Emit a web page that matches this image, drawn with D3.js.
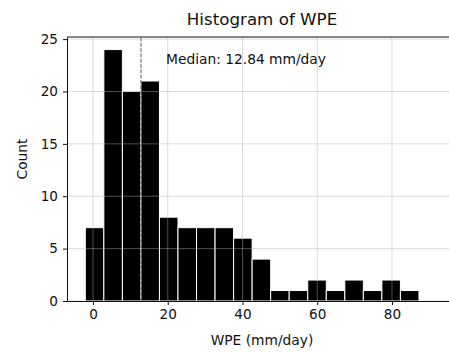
<!DOCTYPE html>
<html>
<head>
<meta charset="utf-8">
<script src="https://cdn.jsdelivr.net/npm/d3@7"></script>
<style>
  body { margin: 0; background: #fff; }
  svg { display: block; font-family: "DejaVu Sans", sans-serif; }
</style>
</head>
<body>
<div id="chart"></div>
<script>
// histogram bins
const binEdges = [-2.06, 2.90, 7.86, 12.82, 17.78, 22.74, 27.70, 32.66, 37.62, 42.58,
                  47.54, 52.50, 57.46, 62.42, 67.38, 72.34, 77.30, 82.26, 87.22];
const counts = [7, 24, 20, 21, 8, 7, 7, 7, 6, 4, 1, 1, 2, 1, 2, 1, 2, 1];
const xTicks = [0, 20, 40, 60, 80];
const yTicks = [0, 5, 10, 15, 20, 25];
const median = 12.84;
const xDomain = [-6.96, 97.4];
const yDomain = [0, 25.2];

const width = 449, height = 352;
const margin = { top: 37, right: -8, bottom: 51, left: 67 };

const svg = d3.select("#chart").append("svg")
    .attr("width", width)
    .attr("height", height);

const x = d3.scaleLinear()
    .domain(xDomain)
    .range([margin.left, width - margin.right]);
const y = d3.scaleLinear()
    .domain(yDomain)
    .range([height - margin.bottom, margin.top]);

const bins = counts.map((c, i) => ({ x0: binEdges[i], x1: binEdges[i + 1], count: c }));

// bars
svg.append("g")
    .selectAll("rect")
    .data(bins)
    .enter()
    .append("rect")
    .attr("x", d => x(d.x0))
    .attr("y", d => y(d.count))
    .attr("width", d => x(d.x1) - x(d.x0))
    .attr("height", d => y(0) - y(d.count))
    .attr("fill", "#000")
    .attr("stroke", "#fff")
    .attr("stroke-width", 1);

// grid (drawn over the bars)
const grid = svg.append("g")
    .attr("stroke", "#b0b0b0")
    .attr("stroke-opacity", 0.5)
    .attr("stroke-width", 0.9);
grid.selectAll(".gx")
    .data(xTicks)
    .enter()
    .append("line")
    .attr("x1", d => x(d)).attr("x2", d => x(d))
    .attr("y1", y.range()[0]).attr("y2", y.range()[1]);
grid.selectAll(".gy")
    .data(yTicks)
    .enter()
    .append("line")
    .attr("x1", x.range()[0]).attr("x2", x.range()[1])
    .attr("y1", d => y(d)).attr("y2", d => y(d));

// median line
svg.append("line")
    .attr("x1", x(median)).attr("x2", x(median))
    .attr("y1", y.range()[0]).attr("y2", y.range()[1])
    .attr("stroke", "#555")
    .attr("stroke-width", 1)
    .attr("stroke-dasharray", "3.7,1.6");

svg.append("text")
    .attr("x", x(median) + 25)
    .attr("y", 64)
    .attr("font-size", 13.8)
    .attr("fill", "#111")
    .text("Median: " + median.toFixed(2) + " mm/day");

// axes
const xAxis = svg.append("g")
    .attr("transform", `translate(0,${height - margin.bottom})`)
    .call(d3.axisBottom(x).tickValues(xTicks).tickSize(4).tickPadding(4).tickSizeOuter(0));
const yAxis = svg.append("g")
    .attr("transform", `translate(${margin.left},0)`)
    .call(d3.axisLeft(y).tickValues(yTicks).tickSize(4).tickPadding(5).tickSizeOuter(0));

[xAxis, yAxis].forEach(g => {
    g.selectAll("text")
        .attr("font-family", "DejaVu Sans")
        .attr("font-size", 13.6)
        .attr("fill", "#111");
    g.selectAll("line").attr("stroke", "#111");
    g.select(".domain").attr("stroke", "#111").attr("stroke-width", 1);
});

// top spine
svg.append("line")
    .attr("x1", x.range()[0]).attr("x2", x.range()[1])
    .attr("y1", y.range()[1]).attr("y2", y.range()[1])
    .attr("stroke", "#111");

// labels
svg.append("text")
    .attr("x", (x.range()[0] + x.range()[1]) / 2)
    .attr("y", 25)
    .attr("text-anchor", "middle")
    .attr("font-size", 16.7)
    .attr("fill", "#111")
    .text("Histogram of WPE");

svg.append("text")
    .attr("x", (x.range()[0] + x.range()[1]) / 2)
    .attr("y", 345)
    .attr("text-anchor", "middle")
    .attr("font-size", 13.8)
    .attr("fill", "#111")
    .text("WPE (mm/day)");

svg.append("text")
    .attr("transform", "translate(27,159) rotate(-90)")
    .attr("text-anchor", "middle")
    .attr("font-size", 13.8)
    .attr("fill", "#111")
    .text("Count");
</script>
</body>
</html>
